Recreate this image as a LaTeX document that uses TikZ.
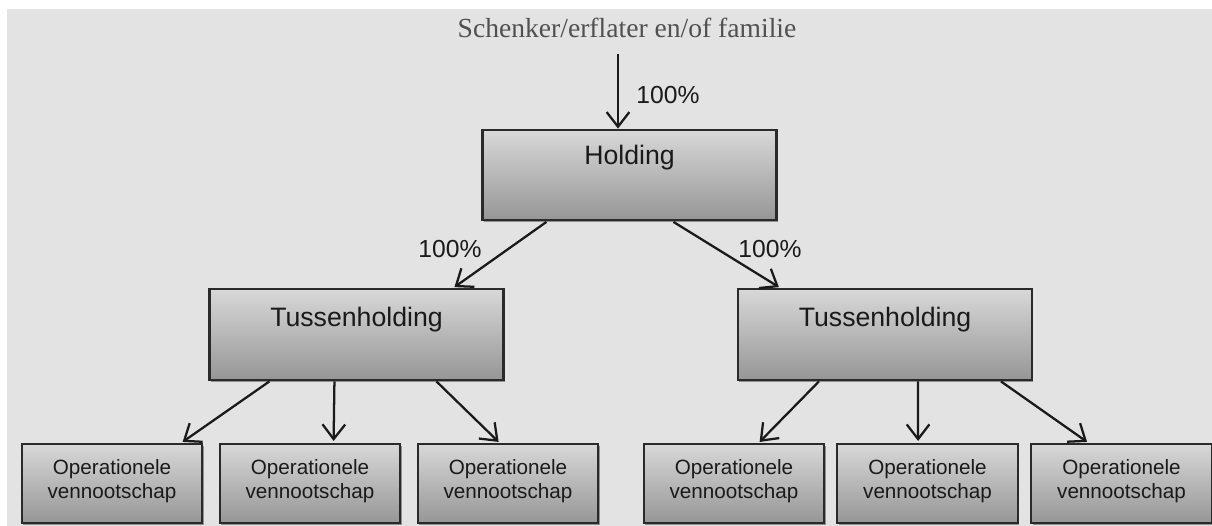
\documentclass[tikz,border=0pt]{standalone}
\usepackage{fontspec}
\setmainfont{Liberation Serif}
\newfontfamily\arialfont{Liberation Sans}
\usetikzlibrary{arrows.meta,shadows,calc}
\definecolor{bgc}{HTML}{E3E3E3}
\definecolor{topc}{HTML}{D8D8D8}
\definecolor{botc}{HTML}{969696}
\definecolor{edgec}{HTML}{2A2A2A}
\definecolor{inkc}{HTML}{1A1A1A}
\definecolor{titlec}{HTML}{505050}
\tikzset{
  boxnode/.style={draw=edgec, line width=1.6pt, top color=topc, bottom color=botc,
    inner sep=0pt, drop shadow={shadow xshift=1pt, shadow yshift=-1.5pt, opacity=0.55, fill=black!70}},
  bigbox/.style={boxnode, minimum width=220.5pt, minimum height=68pt},
  smallbox/.style={boxnode, minimum width=135.5pt, minimum height=59.25pt},
  biglbl/.style={font=\arialfont\fontsize{20}{24}\selectfont, text=inkc, inner sep=0pt},
  smalllbl/.style={font=\arialfont\fontsize{15.5}{17.5}\selectfont, text=inkc, align=center, inner sep=0pt},
  pct/.style={font=\arialfont\fontsize{18.5}{22}\selectfont, text=inkc, inner sep=0pt},
  conn/.style={draw=inkc, line width=1.7pt, -{Straight Barb[length=11pt,width=17pt,line width=1.7pt]}}
}
\begin{document}
\begin{tikzpicture}[x=0.75pt,y=-0.75pt]
\useasboundingbox (0,0) rectangle (1212,525);
\begin{scope}
\clip (0,0) rectangle (1212,525);
\fill[bgc] (7,9) rectangle (1214,527);

% title
\node[font=\fontsize{20.7}{24}\selectfont, text=titlec, inner sep=0pt] (title) at (627,28) {Schenker/erflater en/of familie};
\coordinate (tstart) at (618,54);

% boxes
\node[bigbox] (h) at (629.5,175) {};
\node[biglbl] (ht) at (629.5,158) {Holding};

\node[bigbox] (tl) at (356.5,334.5) {};
\node[biglbl] (tlt) at (356.5,320) {Tussenholding};
\node[bigbox] (tr) at (885,334.5) {};
\node[biglbl] (trt) at (885,320) {Tussenholding};

\foreach \n/\x in {b1/112, b2/310, b3/508, b4/734, b5/927.5, b6/1121.5}{
  \node[smallbox] (\n) at (\x,483.5) {};
  \node[smalllbl] (\n t) at (\x,481) {Operationele\\vennootschap};
}

% percentage labels
\node[pct] (p0) at (668,95) {100\%};
\node[pct] (p1) at (450,249) {100\%};
\node[pct] (p2) at (770,249) {100\%};

% connectors
\draw[conn] (tstart) -- (tstart |- h.north);
\draw[conn] ($(h.south west)+(65,0.5)$) -- ($(tl.north west)+(246,-1)$);
\draw[conn] ($(h.south west)+(192,0.5)$) -- ($(tr.north west)+(42,-1)$);

\draw[conn] ($(tl.south west)+(61,0.5)$) -- ($(b1.north west)+(162,-1)$);
\draw[conn] ($(tl.south west)+(126,0.5)$) -- ($(b2.north west)+(115,-2)$);
\draw[conn] ($(tl.south west)+(228,0.5)$) -- ($(b3.north west)+(82,-1)$);

\draw[conn] ($(tr.south west)+(82,0.5)$) -- ($(b4.north west)+(117,-1)$);
\draw[conn] ($(tr.south west)+(181,0.5)$) -- ($(b5.north west)+(82,-2)$);
\draw[conn] ($(tr.south west)+(264,0.5)$) -- ($(b6.north west)+(57,-1)$);
\end{scope}
\end{tikzpicture}
\end{document}
